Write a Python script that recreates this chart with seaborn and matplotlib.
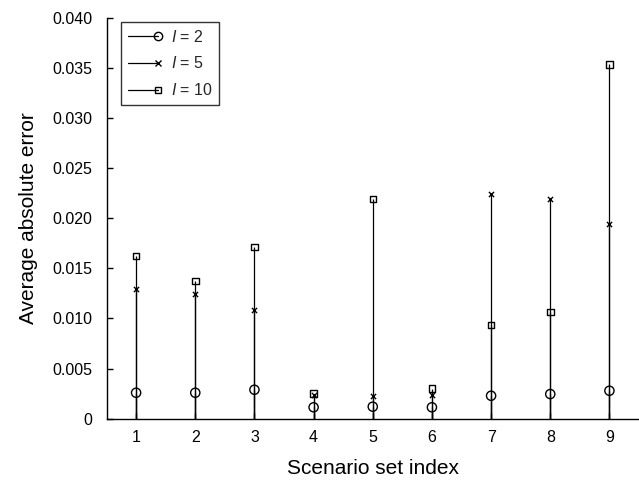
import matplotlib
matplotlib.use("Agg")
import matplotlib.pyplot as plt
import seaborn as sns
import pandas as pd
import numpy as np
from matplotlib.lines import Line2D
from matplotlib.legend_handler import HandlerLine2D
from matplotlib.ticker import FuncFormatter

# ---- data ----
scenario_index = [1, 2, 3, 4, 5, 6, 7, 8, 9]
err_I2 = [0.00259, 0.00259, 0.00289, 0.00114, 0.00120, 0.00114, 0.00229, 0.00246, 0.00279]
err_I5 = [0.01290, 0.01243, 0.01081, 0.00240, 0.00226, 0.00236, 0.02240, 0.02190, 0.01941]
err_I10 = [0.01625, 0.01373, 0.01712, 0.00250, 0.02190, 0.00299, 0.00934, 0.01064, 0.03536]
series_labels = ["$I$ = 2", "$I$ = 5", "$I$ = 10"]
y_ticks = [0, 0.005, 0.010, 0.015, 0.020, 0.025, 0.030, 0.035, 0.040]

sns.set_theme(style="ticks")
plt.rcParams["font.family"] = ["Liberation Sans", "DejaVu Sans"]
plt.rcParams["mathtext.fontset"] = "custom"
plt.rcParams["mathtext.it"] = "Liberation Sans:italic"
plt.rcParams["mathtext.rm"] = "Liberation Sans"

df = pd.DataFrame({
    "index": scenario_index * 3,
    "error": err_I2 + err_I5 + err_I10,
    "series": [series_labels[0]] * 9 + [series_labels[1]] * 9 + [series_labels[2]] * 9,
})

fig = plt.figure(figsize=(6.39, 4.83), dpi=100)
ax = fig.add_axes([0.1667, 0.1331, 0.8333, 0.8300])

# stems
for vals in (err_I2, err_I5, err_I10):
    ax.vlines(scenario_index, 0, vals, colors="black", linewidth=0.9, zorder=2)

marker_map = {series_labels[0]: "o", series_labels[1]: "x", series_labels[2]: "s"}
size_map = {series_labels[0]: 44, series_labels[1]: 14, series_labels[2]: 22}
for lab in series_labels:
    sub = df[df["series"] == lab]
    sns.scatterplot(data=sub, x="index", y="error", marker=marker_map[lab],
                    s=size_map[lab], facecolors="none" if lab != series_labels[1] else "black",
                    edgecolor="black", linewidth=1.0, color="black", ax=ax, zorder=3,
                    legend=False)

ax.set_xlim(0.5, 9.5)
ax.set_ylim(0, 0.040)
ax.set_xticks(scenario_index)
ax.set_yticks(y_ticks)
ax.yaxis.set_major_formatter(FuncFormatter(lambda v, p: "0" if abs(v) < 1e-12 else f"{v:.3f}"))
ax.tick_params(axis="both", direction="in", length=4, width=1, color="black",
               labelsize=11.5, labelcolor="black")
ax.tick_params(axis="y", pad=10)
ax.tick_params(axis="x", pad=8)
for s in ("top", "right"):
    ax.spines[s].set_visible(False)
for s in ("left", "bottom"):
    ax.spines[s].set_color("black")
    ax.spines[s].set_linewidth(1.0)

ax.set_xlabel("Scenario set index", fontsize=15, color="black", labelpad=10.5)
ax.set_ylabel("Average absolute error", fontsize=15, color="black", labelpad=10.5)


class EndMarkerHandler(HandlerLine2D):
    def create_artists(self, legend, orig_handle, xdescent, ydescent, width, height, fontsize, trans):
        arts = super().create_artists(legend, orig_handle, xdescent, ydescent, width, height, fontsize, trans)
        for a in arts:
            a.set_markevery([len(a.get_xdata()) - 1])
        return arts


handles = [
    Line2D([0], [0], color="black", lw=0.9, marker="o", markersize=6, markerfacecolor="none", markeredgecolor="black"),
    Line2D([0], [0], color="black", lw=0.9, marker="x", markersize=4, markeredgecolor="black"),
    Line2D([0], [0], color="black", lw=0.9, marker="s", markersize=4.5, markerfacecolor="none", markeredgecolor="black"),
]
leg = ax.legend(handles, series_labels, loc="upper left", bbox_to_anchor=(0.028, 0.989),
                borderaxespad=0, fontsize=11.5, frameon=True, fancybox=False,
                edgecolor="black", handlelength=1.9, handletextpad=0.8, labelspacing=0.68,
                borderpad=0.4, numpoints=1,
                handler_map={Line2D: EndMarkerHandler()})
leg.get_frame().set_linewidth(1.0)

fig.savefig("out.png", dpi=100)
